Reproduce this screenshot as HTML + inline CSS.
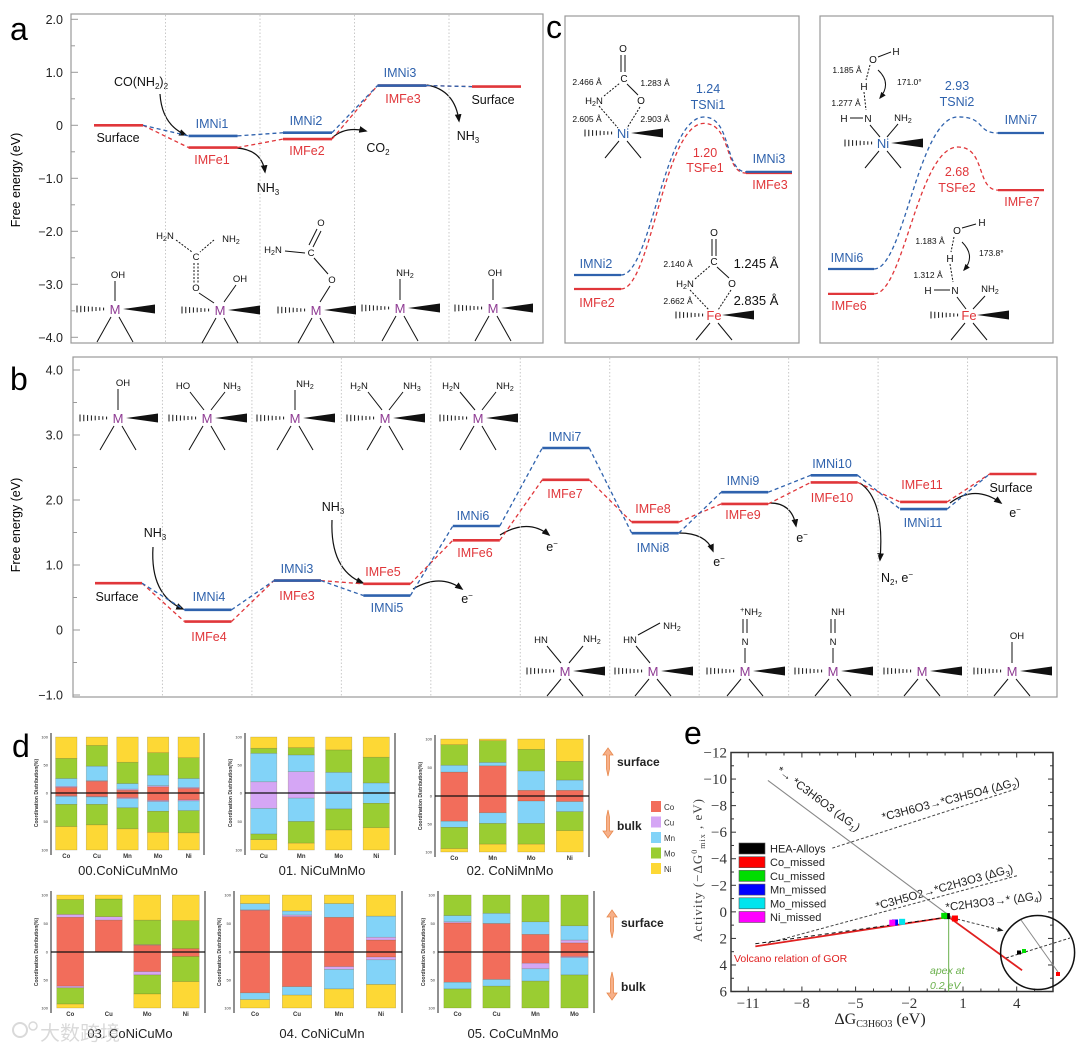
<!DOCTYPE html>
<html><head><meta charset="utf-8"><title>Free energy diagrams and HEA analysis</title>
<style>
body{margin:0;background:#fff;}
svg{display:block;font-family:"Liberation Sans",Arial,sans-serif;}
.t{font-size:12.5px;fill:#111;}
.blue{fill:#2f62ad;}
.red{fill:#e0363a;}
.sm{font-size:9.5px;fill:#111;}
.serif{font-family:"Liberation Serif",serif;}
</style></head>
<body>
<svg id="fig" width="1080" height="1054" viewBox="0 0 1080 1054">
<defs>
<marker id="ah" viewBox="0 0 10 10" refX="8" refY="5" markerWidth="7" markerHeight="7" orient="auto"><path d="M0,1 L10,5 L0,9 z" fill="#111"/></marker>
<marker id="ahg" viewBox="0 0 10 10" refX="8" refY="5" markerWidth="6" markerHeight="6" orient="auto"><path d="M0,1 L10,5 L0,9 z" fill="#222"/></marker>
</defs>

<!-- ================= PANEL A ================= -->
<g id="panelA">
<text x="10" y="40" font-size="32">a</text>
<rect x="71" y="14" width="472" height="329" fill="none" stroke="#999" stroke-width="1.2"/>
<text transform="translate(20,180) rotate(-90)" text-anchor="middle" font-size="12.5">Free energy (eV)</text>
<text x="141" y="86" class="t" text-anchor="middle">CO(NH<tspan font-size="8" dy="3">2</tspan><tspan dy="-3">)</tspan><tspan font-size="8" dy="3">2</tspan></text>
<path d="M160,94 Q162,125 186,135" fill="none" stroke="#111" stroke-width="1.2" marker-end="url(#ah)"/>
<text x="268" y="192" class="t" text-anchor="middle">NH<tspan font-size="8" dy="3">3</tspan></text>
<path d="M237,148 Q262,150 265,172" fill="none" stroke="#111" stroke-width="1.2" marker-end="url(#ah)"/>
<text x="378" y="152" class="t" text-anchor="middle">CO<tspan font-size="8" dy="3">2</tspan></text>
<path d="M332,138 Q345,126 366,131" fill="none" stroke="#111" stroke-width="1.2" marker-end="url(#ah)"/>
<text x="468" y="140" class="t" text-anchor="middle">NH<tspan font-size="8" dy="3">3</tspan></text>
<path d="M427,85 Q455,90 459,121" fill="none" stroke="#111" stroke-width="1.2" marker-end="url(#ah)"/>
<text x="118" y="142" class="t" text-anchor="middle">Surface</text>
<text x="493" y="104" class="t" text-anchor="middle">Surface</text>
<text x="212" y="128" class="t blue" text-anchor="middle">IMNi1</text>
<text x="212" y="164" class="t red" text-anchor="middle">IMFe1</text>
<text x="306" y="125" class="t blue" text-anchor="middle">IMNi2</text>
<text x="307" y="155" class="t red" text-anchor="middle">IMFe2</text>
<text x="400" y="77" class="t blue" text-anchor="middle">IMNi3</text>
<text x="403" y="103" class="t red" text-anchor="middle">IMFe3</text>
<!-- molecule labels -->
<g font-size="9.5" fill="#111">
<text x="118" y="278" text-anchor="middle">OH</text>
<line x1="115" y1="281" x2="115" y2="301" stroke="#111"/>
<text x="196" y="291" text-anchor="middle">O</text>
<text x="196" y="260" text-anchor="middle">C</text>
<line x1="194" y1="263" x2="194" y2="283" stroke="#111" stroke-dasharray="2,1.5"/><line x1="198" y1="263" x2="198" y2="283" stroke="#111" stroke-dasharray="2,1.5"/>
<text x="165" y="239" text-anchor="middle">H<tspan font-size="7" dy="2">2</tspan><tspan dy="-2">N</tspan></text>
<text x="231" y="242" text-anchor="middle">NH<tspan font-size="7" dy="2">2</tspan></text>
<line x1="176" y1="240" x2="192" y2="252" stroke="#111" stroke-dasharray="2,1.5"/><line x1="214" y1="240" x2="200" y2="252" stroke="#111" stroke-dasharray="2,1.5"/>
<line x1="199" y1="293" x2="214" y2="303" stroke="#111"/>
<text x="240" y="282" text-anchor="middle">OH</text>
<line x1="236" y1="285" x2="224" y2="302" stroke="#111"/>
<text x="321" y="226" text-anchor="middle">O</text>
<line x1="309" y1="245" x2="317" y2="229" stroke="#111"/><line x1="313" y1="247" x2="321" y2="231" stroke="#111"/>
<text x="311" y="256" text-anchor="middle">C</text>
<text x="273" y="253" text-anchor="middle">H<tspan font-size="7" dy="2">2</tspan><tspan dy="-2">N</tspan></text>
<line x1="285" y1="251" x2="305" y2="253" stroke="#111"/>
<line x1="314" y1="258" x2="328" y2="274" stroke="#111"/>
<text x="332" y="283" text-anchor="middle">O</text>
<line x1="330" y1="286" x2="320" y2="302" stroke="#111"/>
<text x="405" y="276" text-anchor="middle">NH<tspan font-size="7" dy="2">2</tspan></text>
<line x1="400" y1="279" x2="400" y2="300" stroke="#111"/>
<text x="495" y="276" text-anchor="middle">OH</text>
<line x1="493" y1="279" x2="493" y2="300" stroke="#111"/>
</g>
</g>

<!-- ================= PANEL C ================= -->
<g id="panelC">
<text x="546" y="38" font-size="32">c</text>
<rect x="565" y="16" width="234" height="327" fill="none" stroke="#999" stroke-width="1.2"/>
<rect x="820" y="16" width="233" height="327" fill="none" stroke="#999" stroke-width="1.2"/>
<text x="708" y="93" class="t blue" text-anchor="middle" font-size="13">1.24</text>
<text x="708" y="109" class="t blue" text-anchor="middle">TSNi1</text>
<text x="705" y="157" class="t red" text-anchor="middle">1.20</text>
<text x="705" y="172" class="t red" text-anchor="middle">TSFe1</text>
<text x="769" y="163" class="t blue" text-anchor="middle">IMNi3</text>
<text x="770" y="189" class="t red" text-anchor="middle">IMFe3</text>
<text x="596" y="268" class="t blue" text-anchor="middle">IMNi2</text>
<text x="597" y="307" class="t red" text-anchor="middle">IMFe2</text>
<text x="957" y="90" class="t blue" text-anchor="middle">2.93</text>
<text x="957" y="106" class="t blue" text-anchor="middle">TSNi2</text>
<text x="957" y="176" class="t red" text-anchor="middle">2.68</text>
<text x="957" y="192" class="t red" text-anchor="middle">TSFe2</text>
<text x="1021" y="124" class="t blue" text-anchor="middle">IMNi7</text>
<text x="1022" y="206" class="t red" text-anchor="middle">IMFe7</text>
<text x="847" y="262" class="t blue" text-anchor="middle">IMNi6</text>
<text x="849" y="310" class="t red" text-anchor="middle">IMFe6</text>
<g font-size="8.5" fill="#111">
<text x="623" y="52" text-anchor="middle" font-size="10">O</text>
<line x1="621" y1="55" x2="621" y2="72" stroke="#111"/><line x1="625" y1="55" x2="625" y2="72" stroke="#111"/>
<text x="624" y="82" text-anchor="middle" font-size="10">C</text>
<text x="594" y="104" text-anchor="middle" font-size="9.5">H<tspan font-size="7" dy="2">2</tspan><tspan dy="-2">N</tspan></text>
<text x="641" y="104" text-anchor="middle" font-size="10">O</text>
<line x1="604" y1="96" x2="620" y2="83" stroke="#111" stroke-dasharray="2,1.5"/>
<line x1="627" y1="84" x2="638" y2="95" stroke="#111"/>
<line x1="599" y1="106" x2="618" y2="128" stroke="#111" stroke-dasharray="2,1.5"/>
<line x1="640" y1="107" x2="627" y2="128" stroke="#111" stroke-dasharray="2,1.5"/>
<text x="587" y="85" text-anchor="middle">2.466 Å</text>
<text x="655" y="86" text-anchor="middle">1.283 Å</text>
<text x="587" y="122" text-anchor="middle">2.605 Å</text>
<text x="655" y="122" text-anchor="middle">2.903 Å</text>
</g>
<g font-size="8.5" fill="#111">
<text x="714" y="236" text-anchor="middle" font-size="10">O</text>
<line x1="712" y1="239" x2="712" y2="256" stroke="#111"/><line x1="716" y1="239" x2="716" y2="256" stroke="#111"/>
<text x="714" y="265" text-anchor="middle" font-size="10">C</text>
<text x="685" y="287" text-anchor="middle" font-size="9.5">H<tspan font-size="7" dy="2">2</tspan><tspan dy="-2">N</tspan></text>
<text x="732" y="287" text-anchor="middle" font-size="10">O</text>
<line x1="695" y1="279" x2="710" y2="266" stroke="#111" stroke-dasharray="2,1.5"/>
<line x1="717" y1="267" x2="729" y2="278" stroke="#111"/>
<line x1="690" y1="290" x2="709" y2="310" stroke="#111" stroke-dasharray="2,1.5"/>
<line x1="731" y1="290" x2="718" y2="310" stroke="#111" stroke-dasharray="2,1.5"/>
<text x="678" y="267" text-anchor="middle">2.140 Å</text>
<text x="756" y="268" text-anchor="middle" font-size="13">1.245 Å</text>
<text x="678" y="304" text-anchor="middle">2.662 Å</text>
<text x="756" y="305" text-anchor="middle" font-size="13">2.835 Å</text>
</g>
<g font-size="8.5" fill="#111">
<text x="873" y="63" text-anchor="middle" font-size="10">O</text>
<line x1="878" y1="57" x2="891" y2="52" stroke="#111"/>
<text x="896" y="55" text-anchor="middle" font-size="10">H</text>
<text x="847" y="73" text-anchor="middle">1.185 Å</text>
<line x1="870" y1="65" x2="866" y2="80" stroke="#111" stroke-dasharray="2,1.5"/>
<text x="864" y="90" text-anchor="middle" font-size="10">H</text>
<line x1="864" y1="92" x2="866" y2="110" stroke="#111" stroke-dasharray="2,1.5"/>
<path d="M878,70 Q892,83 880,98" fill="none" stroke="#111" marker-end="url(#ah)"/>
<text x="897" y="85">171.0°</text>
<text x="846" y="106" text-anchor="middle">1.277 Å</text>
<text x="844" y="122" text-anchor="middle" font-size="10">H</text>
<line x1="850" y1="118" x2="863" y2="118" stroke="#111"/>
<text x="868" y="122" text-anchor="middle" font-size="10">N</text>
<text x="903" y="121" text-anchor="middle" font-size="9.5">NH<tspan font-size="7" dy="2">2</tspan></text>
<line x1="870" y1="125" x2="880" y2="137" stroke="#111"/><line x1="898" y1="124" x2="887" y2="137" stroke="#111"/>
</g>
<g font-size="8.5" fill="#111">
<text x="957" y="234" text-anchor="middle" font-size="10">O</text>
<line x1="962" y1="228" x2="976" y2="224" stroke="#111"/>
<text x="982" y="226" text-anchor="middle" font-size="10">H</text>
<text x="930" y="244" text-anchor="middle">1.183 Å</text>
<line x1="954" y1="237" x2="951" y2="252" stroke="#111" stroke-dasharray="2,1.5"/>
<text x="950" y="262" text-anchor="middle" font-size="10">H</text>
<line x1="950" y1="264" x2="953" y2="282" stroke="#111" stroke-dasharray="2,1.5"/>
<path d="M962,242 Q976,256 964,270" fill="none" stroke="#111" marker-end="url(#ah)"/>
<text x="979" y="256">173.8°</text>
<text x="928" y="278" text-anchor="middle">1.312 Å</text>
<text x="928" y="294" text-anchor="middle" font-size="10">H</text>
<line x1="934" y1="290" x2="950" y2="290" stroke="#111"/>
<text x="955" y="294" text-anchor="middle" font-size="10">N</text>
<text x="990" y="292" text-anchor="middle" font-size="9.5">NH<tspan font-size="7" dy="2">2</tspan></text>
<line x1="957" y1="297" x2="966" y2="309" stroke="#111"/><line x1="985" y1="296" x2="973" y2="309" stroke="#111"/>
</g>
</g>

<!-- ================= PANEL B ================= -->
<g id="panelB">
<text x="10" y="390" font-size="32">b</text>
<rect x="73" y="357" width="984" height="340" fill="none" stroke="#999" stroke-width="1.2"/>
<text transform="translate(20,525) rotate(-90)" text-anchor="middle" font-size="12.5">Free energy (eV)</text>
<g class="t" text-anchor="middle">
<text x="117" y="601">Surface</text>
<text x="209" y="601" class="blue">IMNi4</text><text x="209" y="641" class="red">IMFe4</text>
<text x="297" y="573" class="blue">IMNi3</text><text x="297" y="600" class="red">IMFe3</text>
<text x="383" y="576" class="red">IMFe5</text><text x="387" y="612" class="blue">IMNi5</text>
<text x="473" y="520" class="blue">IMNi6</text><text x="475" y="557" class="red">IMFe6</text>
<text x="565" y="441" class="blue">IMNi7</text><text x="565" y="498" class="red">IMFe7</text>
<text x="653" y="513" class="red">IMFe8</text><text x="653" y="552" class="blue">IMNi8</text>
<text x="743" y="485" class="blue">IMNi9</text><text x="743" y="519" class="red">IMFe9</text>
<text x="832" y="468" class="blue">IMNi10</text><text x="832" y="502" class="red">IMFe10</text>
<text x="922" y="489" class="red">IMFe11</text><text x="923" y="527" class="blue">IMNi11</text>
<text x="1011" y="492">Surface</text>
</g>
<text x="155" y="537" class="t" text-anchor="middle">NH<tspan font-size="8" dy="3">3</tspan></text>
<path d="M153,547 Q150,595 183,609" fill="none" stroke="#111" stroke-width="1.2" marker-end="url(#ah)"/>
<text x="333" y="511" class="t" text-anchor="middle">NH<tspan font-size="8" dy="3">3</tspan></text>
<path d="M332,520 Q330,570 363,583" fill="none" stroke="#111" stroke-width="1.2" marker-end="url(#ah)"/>
<g class="t" text-anchor="middle">
<text x="467" y="603">e<tspan font-size="8" dy="-5">−</tspan></text>
<text x="552" y="551">e<tspan font-size="8" dy="-5">−</tspan></text>
<text x="719" y="566">e<tspan font-size="8" dy="-5">−</tspan></text>
<text x="802" y="542">e<tspan font-size="8" dy="-5">−</tspan></text>
<text x="1015" y="517">e<tspan font-size="8" dy="-5">−</tspan></text>
<text x="897" y="582">N<tspan font-size="8" dy="3">2</tspan><tspan dy="-3">, e</tspan><tspan font-size="8" dy="-5">−</tspan></text>
</g>
<g fill="none" stroke="#111" stroke-width="1.2">
<path d="M413,589 Q440,573 462,589" marker-end="url(#ah)"/>
<path d="M500,535 Q528,518 549,535" marker-end="url(#ah)"/>
<path d="M679,533 Q706,533 713,551" marker-end="url(#ah)"/>
<path d="M770,503 Q792,503 796,526" marker-end="url(#ah)"/>
<path d="M860,483 Q885,500 880,560" marker-end="url(#ah)"/>
<path d="M950,503 Q975,484 1001,503" marker-end="url(#ah)"/>
</g>
<g font-size="9.5" fill="#111" text-anchor="middle">
<text x="123" y="386">OH</text><line x1="118" y1="389" x2="118" y2="410" stroke="#111"/>
<text x="183" y="389">HO</text><text x="232" y="389">NH<tspan font-size="7" dy="2">3</tspan></text>
<line x1="190" y1="392" x2="204" y2="410" stroke="#111"/><line x1="225" y1="392" x2="211" y2="410" stroke="#111"/>
<text x="305" y="387">NH<tspan font-size="7" dy="2">2</tspan></text><line x1="295" y1="390" x2="295" y2="410" stroke="#111"/>
<text x="359" y="389">H<tspan font-size="7" dy="2">2</tspan><tspan dy="-2">N</tspan></text><text x="412" y="389">NH<tspan font-size="7" dy="2">3</tspan></text>
<line x1="368" y1="392" x2="382" y2="410" stroke="#111"/><line x1="403" y1="392" x2="389" y2="410" stroke="#111"/>
<text x="451" y="389">H<tspan font-size="7" dy="2">2</tspan><tspan dy="-2">N</tspan></text><text x="505" y="389">NH<tspan font-size="7" dy="2">2</tspan></text>
<line x1="460" y1="392" x2="475" y2="410" stroke="#111"/><line x1="496" y1="392" x2="482" y2="410" stroke="#111"/>
<text x="541" y="643">HN</text><text x="592" y="642">NH<tspan font-size="7" dy="2">2</tspan></text>
<line x1="547" y1="646" x2="561" y2="663" stroke="#111"/><line x1="583" y1="646" x2="569" y2="663" stroke="#111"/>
<text x="630" y="643">HN</text><text x="672" y="629">NH<tspan font-size="7" dy="2">2</tspan></text>
<line x1="638" y1="635" x2="660" y2="623" stroke="#111"/><line x1="636" y1="646" x2="650" y2="663" stroke="#111"/>
<text x="751" y="615"><tspan font-size="7" dy="-3">+</tspan><tspan dy="3">NH</tspan><tspan font-size="7" dy="2">2</tspan></text>
<line x1="743" y1="619" x2="743" y2="633" stroke="#111"/><line x1="747" y1="619" x2="747" y2="633" stroke="#111"/>
<text x="745" y="645">N</text><line x1="745" y1="648" x2="745" y2="663" stroke="#111"/>
<text x="838" y="615">NH</text>
<line x1="831" y1="619" x2="831" y2="633" stroke="#111"/><line x1="835" y1="619" x2="835" y2="633" stroke="#111"/>
<text x="833" y="645">N</text><line x1="833" y1="648" x2="833" y2="663" stroke="#111"/>
<text x="1017" y="639">OH</text><line x1="1012" y1="642" x2="1012" y2="663" stroke="#111"/>
</g>
</g>

<!-- ================= PANEL D ================= -->
<g id="panelD">
<text x="12" y="757" font-size="32">d</text>
<g font-size="13" text-anchor="middle" fill="#222">
<text x="128" y="875">00.CoNiCuMnMo</text>
<text x="322" y="875">01. NiCuMnMo</text>
<text x="510" y="875">02. CoNiMnMo</text>
<text x="130" y="1038">03. CoNiCuMo</text>
<text x="322" y="1038">04. CoNiCuMn</text>
<text x="513" y="1038">05. CoCuMnMo</text>
</g>
<g>
<path d="M608,748 l-5,7 h3.5 v14 l1.5,7 l1.5,-7 v-14 h3.5 z" fill="#f7b089" stroke="#e8894d" stroke-width="0.8"/>
<text x="617" y="766" font-size="12" font-weight="bold" fill="#222">surface</text>
<path d="M608,838 l-5,-7 h3.5 v-14 l1.5,-7 l1.5,7 v14 h3.5 z" fill="#f7b089" stroke="#e8894d" stroke-width="0.8"/>
<text x="617" y="830" font-size="12" font-weight="bold" fill="#222">bulk</text>
<path d="M612,910 l-5,7 h3.5 v14 l1.5,7 l1.5,-7 v-14 h3.5 z" fill="#f7b089" stroke="#e8894d" stroke-width="0.8"/>
<text x="621" y="927" font-size="12" font-weight="bold" fill="#222">surface</text>
<path d="M612,1000 l-5,-7 h3.5 v-14 l1.5,-7 l1.5,7 v14 h3.5 z" fill="#f7b089" stroke="#e8894d" stroke-width="0.8"/>
<text x="621" y="991" font-size="12" font-weight="bold" fill="#222">bulk</text>
</g>
<g opacity="0.55">
<circle cx="20" cy="1030" r="7" fill="none" stroke="#bbb" stroke-width="2"/>
<circle cx="33" cy="1026" r="4" fill="none" stroke="#bbb" stroke-width="1.5"/>
<text x="40" y="1040" font-size="20" fill="#bbb" font-family="'Liberation Sans','Noto Sans CJK SC',sans-serif">大数跨境</text>
</g>
</g>

<!-- ================= PANEL E ================= -->
<g id="panelE">
<text x="684" y="744" font-size="32">e</text>
<rect x="731" y="752.5" width="322" height="239" fill="#fff" stroke="#333" stroke-width="1.5"/>
<text transform="translate(702,870) rotate(-90)" text-anchor="middle" class="serif" font-size="13" fill="#444" letter-spacing="1">Activity  (−ΔG<tspan font-size="8" dy="-5">0</tspan><tspan font-size="8" dy="8">mix</tspan><tspan dy="-3"> ,  eV)</tspan></text>
<text x="880" y="1024" text-anchor="middle" class="serif" font-size="16" fill="#222">ΔG<tspan font-size="10" dy="3">C3H6O3</tspan><tspan dy="-3">  (eV)</tspan></text>
<text x="734" y="962" font-size="10.5" fill="#e02020">Volcano relation of GOR</text>
<text x="930" y="974" font-size="10.5" font-style="italic" fill="#6ab04c">apex at</text>
<text x="930" y="989" font-size="10.5" font-style="italic" fill="#6ab04c">0.2 eV</text>
<g font-size="11.5" fill="#222">
<text transform="translate(776,772) rotate(36.6)">*→ *C3H6O3 (ΔG<tspan font-size="8" dy="3">1</tspan><tspan dy="-3">)</tspan></text>
<text transform="translate(883,821) rotate(-14.7)">*C3H6O3→*C3H5O4 (ΔG<tspan font-size="8" dy="3">2</tspan><tspan dy="-3">)</tspan></text>
<text transform="translate(877,910) rotate(-15.6)">*C3H5O2→*C2H3O3 (ΔG<tspan font-size="8" dy="3">3</tspan><tspan dy="-3">)</tspan></text>
<text transform="translate(946,911) rotate(-7)">*C2H3O3→* (ΔG<tspan font-size="8" dy="3">4</tspan><tspan dy="-3">)</tspan></text>
</g>
</g>
</svg>

<script>
const NS = "http://www.w3.org/2000/svg";
const svg = document.getElementById('fig');
function mk(tag, attrs, parent) {
  const e = document.createElementNS(NS, tag);
  for (const k in attrs) e.setAttribute(k, attrs[k]);
  (parent || svg).appendChild(e);
  return e;
}
const BLUE = '#2f62ad', RED = '#e0363a';

/* ---------- Panel a data ---------- */
const aTicks = [2, 1, 0, -1, -2, -3, -4];
const aTickLabels = ['2.0', '1.0', '0', '−1.0', '−2.0', '−3.0', '−4.0'];
const aNi = [0, -0.2, -0.14, 0.75, 0.73];
const aFe = [0, -0.42, -0.26, 0.75, 0.73];
/* ---------- Panel b data ---------- */
const bTicks = [4, 3, 2, 1, 0, -1];
const bTickLabels = ['4.0', '3.0', '2.0', '1.0', '0', '−1.0'];
const bNi = [0.72, 0.31, 0.76, 0.53, 1.60, 2.80, 1.49, 2.12, 2.38, 1.86, 2.40];
const bFe = [0.72, 0.13, 0.76, 0.71, 1.38, 2.31, 1.66, 1.94, 2.27, 1.97, 2.40];
/* ---------- Panel c data (relative energies) ---------- */
const c1Ni = [0, 1.24, 0.81];
const c1Fe = [-0.11, 1.19, 0.80];
const c2Ni = [0, 2.93, 2.62];
const c2Fe = [-0.48, 2.35, 1.52];

const aG = document.getElementById('panelA');
const bG = document.getElementById('panelB');
const cG = document.getElementById('panelC');

function yA(v) { return 125.3 - v * 53; }
function yB(v) { return 630 - v * 65; }

/* axis ticks for panel a */
for (let v = -4; v <= 2.001; v += 0.5) {
  const major = Math.abs(v - Math.round(v)) < 1e-6;
  const tk = mk('line', {x1: 71, x2: major ? 78 : 75, y1: yA(v), y2: yA(v), stroke: '#999'}, aG);
  
  
}
aTicks.forEach((v, i) => {
  const t = mk('text', {x: 63, y: yA(v) + 4.5, 'text-anchor': 'end', 'font-size': 12.5, fill: '#222'}, aG);
  t.textContent = aTickLabels[i];
  
  
});
for (let k = 1; k < aNi.length; k++) {
  const x = 71 + k * 94.5;
  const gl = mk('line', {x1: x, x2: x, y1: 15, y2: 342, stroke: '#c8c8c8', 'stroke-dasharray': '1.5,2'}, aG);
  
  
}
function levelsA() {
  const x0 = i => 71 + i * 94.5 + 23, x1 = i => 71 + i * 94.5 + 72;
  for (let i = 0; i < aNi.length - 1; i++) {
    const cr = mk('line', {x1: x1(i), y1: yA(aFe[i]), x2: x0(i + 1), y2: yA(aFe[i + 1]), stroke: RED, 'stroke-width': 1.3, 'stroke-dasharray': '4,3'}, aG);
    
    
    const cb = mk('line', {x1: x1(i), y1: yA(aNi[i]), x2: x0(i + 1), y2: yA(aNi[i + 1]), stroke: BLUE, 'stroke-width': 1.3, 'stroke-dasharray': '4,3'}, aG);
    
    
  }
  for (let i = 0; i < aFe.length; i++) {
    const r = mk('line', {x1: x0(i), x2: x1(i), y1: yA(aFe[i]), y2: yA(aFe[i]), stroke: RED, 'stroke-width': 2.6}, aG);
    
    
  }
  for (let i = 1; i < aNi.length - 1; i++) {
    const b = mk('line', {x1: x0(i), x2: x1(i), y1: yA(aNi[i]), y2: yA(aNi[i]), stroke: BLUE, 'stroke-width': 2.6}, aG);
    
    
  }
}
levelsA();

/* metal centre helper */
function mstruct(parent, cx, cy, legLen, metal, color) {
  const g = mk('g', {}, parent);
  for (let j = 0; j < 8; j++) {
    const h = 7 - j * 0.6;
    mk('line', {x1: cx - 38 + j * 3.8, x2: cx - 38 + j * 3.8, y1: cy - h / 2, y2: cy + h / 2, stroke: '#111', 'stroke-width': 1}, g);
  }
  mk('polygon', {points: `${cx + 8},${cy} ${cx + 40},${cy - 4.5} ${cx + 40},${cy + 4.5}`, fill: '#111'}, g);
  mk('line', {x1: cx - 4, y1: cy + 8, x2: cx - 18, y2: cy + legLen, stroke: '#111'}, g);
  mk('line', {x1: cx + 4, y1: cy + 8, x2: cx + 18, y2: cy + legLen, stroke: '#111'}, g);
  const t = mk('text', {x: cx, y: cy + 5, 'text-anchor': 'middle', 'font-size': 13, fill: color}, g);
  t.textContent = metal;
  return g;
}
const M_COL = '#8e3a92';
[[115, 309], [220, 310], [316, 310], [400, 308], [493, 308]].forEach(p => {
  const g = mstruct(aG, p[0], p[1], 33, 'M', M_COL);
  
  
});

/* ---------- Panel b ---------- */
for (let v = -1; v <= 4.001; v += 0.5) {
  const major = Math.abs(v - Math.round(v)) < 1e-6;
  const tk = mk('line', {x1: 73, x2: major ? 80 : 77, y1: yB(v), y2: yB(v), stroke: '#999'}, bG);
  
  
}
bTicks.forEach((v, i) => {
  const t = mk('text', {x: 63, y: yB(v) + 4.5, 'text-anchor': 'end', 'font-size': 12.5, fill: '#222'}, bG);
  t.textContent = bTickLabels[i];
  
  
});
const bCol = 984 / 11;
for (let k = 1; k < bNi.length; k++) {
  const x = 73 + k * bCol;
  const gl = mk('line', {x1: x, x2: x, y1: 358, y2: 696, stroke: '#c8c8c8', 'stroke-dasharray': '1.5,2'}, bG);
  
  
}
function levelsB() {
  const x0 = i => 73 + i * bCol + 22, x1 = i => 73 + i * bCol + 69;
  for (let i = 0; i < bNi.length - 1; i++) {
    const cr = mk('line', {x1: x1(i), y1: yB(bFe[i]), x2: x0(i + 1), y2: yB(bFe[i + 1]), stroke: RED, 'stroke-width': 1.3, 'stroke-dasharray': '4,3'}, bG);
    
    
    const cb = mk('line', {x1: x1(i), y1: yB(bNi[i]), x2: x0(i + 1), y2: yB(bNi[i + 1]), stroke: BLUE, 'stroke-width': 1.3, 'stroke-dasharray': '4,3'}, bG);
    
    
  }
  for (let i = 0; i < bFe.length; i++) {
    const r = mk('line', {x1: x0(i), x2: x1(i), y1: yB(bFe[i]), y2: yB(bFe[i]), stroke: RED, 'stroke-width': 2.6}, bG);
    
    
  }
  for (let i = 1; i < bNi.length - 1; i++) {
    const b = mk('line', {x1: x0(i), x2: x1(i), y1: yB(bNi[i]), y2: yB(bNi[i]), stroke: BLUE, 'stroke-width': 2.6}, bG);
    
    
  }
}
levelsB();
[[118, 418], [207, 418], [295, 418], [385, 418], [478, 418]].forEach(p => {
  const g = mstruct(bG, p[0], p[1], 32, 'M', M_COL);
  
  
});
[[565, 671], [653, 671], [745, 671], [833, 671], [922, 671], [1012, 671]].forEach(p => {
  const g = mstruct(bG, p[0], p[1], 25, 'M', M_COL);
  
  
});

/* ---------- Panel c ---------- */
function tsPanel(ni, fe, base, k, segA, segB, peakX) {
  const y = v => base - v * k;
  [[fe, RED], [ni, BLUE]].forEach(([s, col]) => {
    const l1 = mk('line', {x1: segA[0], x2: segA[1], y1: y(s[0]), y2: y(s[0]), stroke: col, 'stroke-width': 2.2}, cG);
    
    
    const l2 = mk('line', {x1: segB[0], x2: segB[1], y1: y(s[2]), y2: y(s[2]), stroke: col, 'stroke-width': 2.2}, cG);
    
    
    const ya = y(s[0]), yp = y(s[1]), yb = y(s[2]);
    const d = `M${segA[1]},${ya} C${segA[1] + 30},${ya} ${peakX - 40},${yp} ${peakX},${yp} C${peakX + 28},${yp} ${segB[0] - 22},${yb} ${segB[0]},${yb}`;
    const p = mk('path', {d: d, fill: 'none', stroke: col, 'stroke-width': 1.3, 'stroke-dasharray': '4,3'}, cG);
    
    
  });
}
tsPanel(c1Ni, c1Fe, 275, 127.4, [574, 621], [746, 792], 704);
tsPanel(c2Ni, c2Fe, 269, 51.9, [828, 874], [998, 1044], 958);
[[623, 133, 'Ni', BLUE], [714, 315, 'Fe', RED], [883, 143, 'Ni', BLUE], [969, 315, 'Fe', RED]].forEach(p => {
  const g = mstruct(cG, p[0], p[1], 25, p[2], p[3]);
  
  
});

/* ---------- Panel d data ---------- */
const elements = ['Co', 'Cu', 'Mn', 'Mo', 'Ni'];
const elementColors = ['#f26d5b', '#d5a6f5', '#82d3f8', '#9acd32', '#fdd835'];
const d00Labels = ['Co', 'Cu', 'Mn', 'Mo', 'Ni'];
const d00Surface = [[10,2,14,36,38],[21,1,26,37,15],[5,2,10,38,45],[11,2,19,40,28],[8,2,16,37,37]];
const d00Bulk = [[5,1,14,39,41],[6,1,13,36,44],[8,2,16,37,37],[13,2,17,37,31],[12,2,17,39,30]];
const d01Labels = ['Cu', 'Mn', 'Mo', 'Ni'];
const d01Surface = [[0,20,51,9,20],[0,38,30,13,19],[0,3,34,40,23],[0,1,17,46,36]];
const d01Bulk = [[0,27,45,10,18],[0,9,41,38,12],[0,1,27,37,35],[0,1,17,43,39]];
const d02Labels = ['Co', 'Mn', 'Mo', 'Ni'];
const d02Surface = [[42,0,12,36,10],[53,0,6,38,3],[10,0,34,38,18],[10,0,18,33,39]];
const d02Bulk = [[45,0,11,38,6],[30,0,19,37,14],[9,0,40,37,14],[10,0,18,34,38]];
const d03Labels = ['Co', 'Cu', 'Mo', 'Ni'];
const d03Surface = [[61,5,0,26,8],[56,6,0,31,7],[12,1,0,43,44],[6,0,0,49,45]];
const d03Bulk = [[61,3,0,29,7],[0,0,0,0,0],[35,6,0,34,25],[8,0,0,45,47]];
const d04Labels = ['Co', 'Cu', 'Mn', 'Ni'];
const d04Surface = [[73,1,11,0,15],[62,3,7,0,28],[61,0,24,0,15],[21,5,37,0,37]];
const d04Bulk = [[73,0,12,0,15],[62,0,15,0,23],[26,5,35,0,34],[9,5,44,0,42]];
const d05Labels = ['Co', 'Cu', 'Mn', 'Mo'];
const d05Surface = [[51,2,11,36,0],[50,0,18,32,0],[31,0,22,47,0],[16,5,25,54,0]];
const d05Bulk = [[54,0,12,34,0],[49,0,12,39,0],[20,10,22,48,0],[8,2,31,59,0]];
const dTickLabels = ['100', '50', '0', '50', '100'];

const dG = document.getElementById('panelD');
function stackChart(name, left, right, top, zero, bottom, labels, surf, bulk) {
  const g = mk('g', {}, dG);
  
  
  const band = (right - left) / labels.length, bw = band * 0.7;
  const sS = (zero - top) / 100, sB = (bottom - zero) / 100;
  labels.forEach((lab, i) => {
    const cx = left + band * (i + 0.5);
    let acc = 0;
    surf[i].forEach((v, e) => {
      if (v <= 0) return;
      const r = mk('rect', {x: cx - bw / 2, y: zero - (acc + v) * sS, width: bw, height: v * sS, fill: elementColors[e], stroke: 'rgba(90,70,20,0.35)', 'stroke-width': 0.5}, g);
      
      
      acc += v;
    });
    acc = 0;
    bulk[i].forEach((v, e) => {
      if (v <= 0) return;
      const r = mk('rect', {x: cx - bw / 2, y: zero + acc * sB, width: bw, height: v * sB, fill: elementColors[e], stroke: 'rgba(90,70,20,0.35)', 'stroke-width': 0.5}, g);
      
      
      acc += v;
    });
    const xl = mk('text', {x: cx, y: bottom + 8, 'text-anchor': 'middle', 'font-size': 6, 'font-weight': 'bold', fill: '#333'}, g);
    xl.textContent = lab;
    
    
  });
  const ax = mk('line', {x1: left, x2: left, y1: top - 4, y2: bottom + 5, stroke: '#222', 'stroke-width': 1}, g);
  
  
  const rx = mk('line', {x1: right, x2: right, y1: top - 4, y2: bottom + 5, stroke: '#222', 'stroke-width': 1}, g);
  
  
  const zl = mk('line', {x1: left, x2: right, y1: zero, y2: zero, stroke: '#111', 'stroke-width': 1.3}, g);
  
  
  const tickY = [top, (top + zero) / 2, zero, (zero + bottom) / 2, bottom];
  dTickLabels.forEach((tl, i) => {
    const t = mk('text', {x: left - 3, y: tickY[i] + 1.5, 'text-anchor': 'end', 'font-size': 4, fill: '#333'}, g);
    t.textContent = tl;
    
    
  });
  const yt = mk('text', {transform: `translate(${left - 13},${zero}) rotate(-90)`, 'text-anchor': 'middle', 'font-size': 5, 'font-weight': 'bold', fill: '#333'}, g);
  yt.textContent = 'Coordination Distribution(%)';
  
  
}
stackChart('chart-00-conicumnmo', 51, 204, 737, 793, 850, d00Labels, d00Surface, d00Bulk);
stackChart('chart-01-nicumnmo', 245, 395, 737, 793, 850, d01Labels, d01Surface, d01Bulk);
stackChart('chart-02-conimnmo', 435, 589, 739, 796, 852, d02Labels, d02Surface, d02Bulk);
stackChart('chart-03-conicumo', 51, 205, 895, 952, 1008, d03Labels, d03Surface, d03Bulk);
stackChart('chart-04-conicumn', 234, 402, 895, 952, 1008, d04Labels, d04Surface, d04Bulk);
stackChart('chart-05-cocumnmo', 438, 594, 895, 952, 1008, d05Labels, d05Surface, d05Bulk);
elements.forEach((el, i) => {
  const sw = mk('rect', {x: 651, y: 801 + i * 15.5, width: 10, height: 11, fill: elementColors[i]}, dG);
  
  
  const t = mk('text', {x: 664, y: 810 + i * 15.5, 'font-size': 8, fill: '#333'}, dG);
  t.textContent = el;
  
  
});

/* ---------- Panel e data ---------- */
const eXTicks = [-11, -8, -5, -2, 1, 4];
const eXTickLabels = ['−11', '−8', '−5', '−2', '1', '4'];
const eYTicks = [-12, -10, -8, -6, -4, -2, 0, 2, 4, 6];
const eYTickLabels = ['−12', '−10', '−8', '−6', '−4', '−2', '0', '2', '4', '6'];
const volcanoU = [-10.6, 0.2, 4.3];
const volcanoV = [2.6, 0.39, 4.4];
const g1U = [-9.9, 0.4];
const g1V = [-9.9, 0.45];
const g2U = [-6.3, 4.0];
const g2V = [-4.8, -9.27];
const g3U = [-9.9, 4.1];
const g3V = [2.35, -2.75];
const g4U = [0.4, 3.2];
const g4V = [0.45, 1.4];
const pointNames = ['HEA-Alloys', 'Co_missed', 'Cu_missed', 'Mn_missed', 'Mo_missed', 'Ni_missed'];
const pointColors = ['#000000', '#ff0000', '#00dd00', '#0000ff', '#00e5ee', '#ff00ff'];
const pointU = [0.1, 0.55, -0.05, -2.8, -2.4, -2.95];
const pointV = [0.32, 0.5, 0.3, 0.8, 0.75, 0.82];
const apexU = 0.2;

const eG = document.getElementById('panelE');
const uX = u => 963 + (u - 1) * 17.9;
const vY = v => 752.5 + (v + 12) * 13.28;
for (let v = -12; v <= 6; v += 1) {
  const major = v % 2 === 0;
  [731, 1053].forEach(x0 => {
    const tk = mk('line', {x1: x0, x2: x0 + (x0 === 731 ? 1 : -1) * (major ? 5 : 3), y1: vY(v), y2: vY(v), stroke: '#333'}, eG);
    
    
  });
}
eYTicks.forEach((v, i) => {
  const t = mk('text', {x: 727, y: vY(v) + 5, 'text-anchor': 'end', 'font-size': 15, fill: '#333', 'font-family': 'Liberation Serif, serif'}, eG);
  t.textContent = eYTickLabels[i];
  
  
});
for (let u = -11; u <= 5; u += 1) {
  const major = (u + 11) % 3 === 0;
  [752.5, 991.5].forEach(y0 => {
    const tk = mk('line', {x1: uX(u), x2: uX(u), y1: y0, y2: y0 + (y0 < 800 ? 1 : -1) * (major ? 5 : 3), stroke: '#333'}, eG);
    
    
  });
}
eXTicks.forEach((u, i) => {
  const t = mk('text', {x: uX(u), y: 1008, 'text-anchor': 'middle', 'font-size': 15, fill: '#333', 'font-family': 'Liberation Serif, serif'}, eG);
  t.textContent = eXTickLabels[i];
  
  
});
function line2(us, vs, attrs, name) {
  const l = mk('line', Object.assign({x1: uX(us[0]), y1: vY(vs[0]), x2: uX(us[1]), y2: vY(vs[1])}, attrs), eG);
  
  return l;
}
const l1 = line2(g1U, g1V, {stroke: '#888', 'stroke-width': 1.1}, 'dg1-line');

const l2 = line2(g2U, g2V, {stroke: '#444', 'stroke-width': 1, 'stroke-dasharray': '3,2'}, 'dg2-line');

const l3 = line2(g3U, g3V, {stroke: '#444', 'stroke-width': 1, 'stroke-dasharray': '3,2'}, 'dg3-line');

const l4 = line2(g4U, g4V, {stroke: '#444', 'stroke-width': 1, 'stroke-dasharray': '3,2', 'marker-end': 'url(#ahg)'}, 'dg4-arrow');

const apex = mk('line', {x1: uX(apexU), x2: uX(apexU), y1: vY(volcanoV[1]), y2: 991.5, stroke: '#6ab04c', 'stroke-width': 1}, eG);


const vp = mk('polyline', {points: volcanoU.map((u, i) => uX(u) + ',' + vY(volcanoV[i])).join(' '), fill: 'none', stroke: '#e02020', 'stroke-width': 1.8}, eG);


const hea = mk('line', {x1: uX(volcanoU[0]), y1: vY(volcanoV[0] - 0.2), x2: uX(volcanoU[1]), y2: vY(volcanoV[1]), stroke: '#111', 'stroke-width': 1, 'stroke-dasharray': '4,3'}, eG);


pointU.forEach((u, i) => {
  const r = mk('rect', {x: uX(u) - 3, y: vY(pointV[i]) - 3, width: 6, height: 6, fill: pointColors[i]}, eG);
  
  
});
/* zoom inset circle */
const circ = mk('circle', {cx: 1037.6, cy: 952.5, r: 37, fill: 'none', stroke: '#111', 'stroke-width': 1.5}, eG);


const ig = mk('line', {x1: 1021, y1: 920, x2: 1058, y2: 972, stroke: '#888', 'stroke-width': 1}, eG);


const id = mk('line', {x1: 1006, y1: 958, x2: 1070, y2: 938, stroke: '#333', 'stroke-dasharray': '3,2'}, eG);


[[1019, 952.5, '#000'], [1024, 951, '#00dd00'], [1058, 974, '#ff0000']].forEach(p => {
  const r = mk('rect', {x: p[0] - 2, y: p[1] - 2, width: 4, height: 4, fill: p[2]}, eG);
  
  
});
pointNames.forEach((n, i) => {
  const sw = mk('rect', {x: 739, y: 843 + i * 13.7, width: 26, height: 11, fill: pointColors[i], stroke: '#555', 'stroke-width': 0.6}, eG);
  
  
  const t = mk('text', {x: 770, y: 852.5 + i * 13.7, 'font-size': 11, fill: '#222'}, eG);
  t.textContent = n;
  
  
});
</script>
</body></html>
